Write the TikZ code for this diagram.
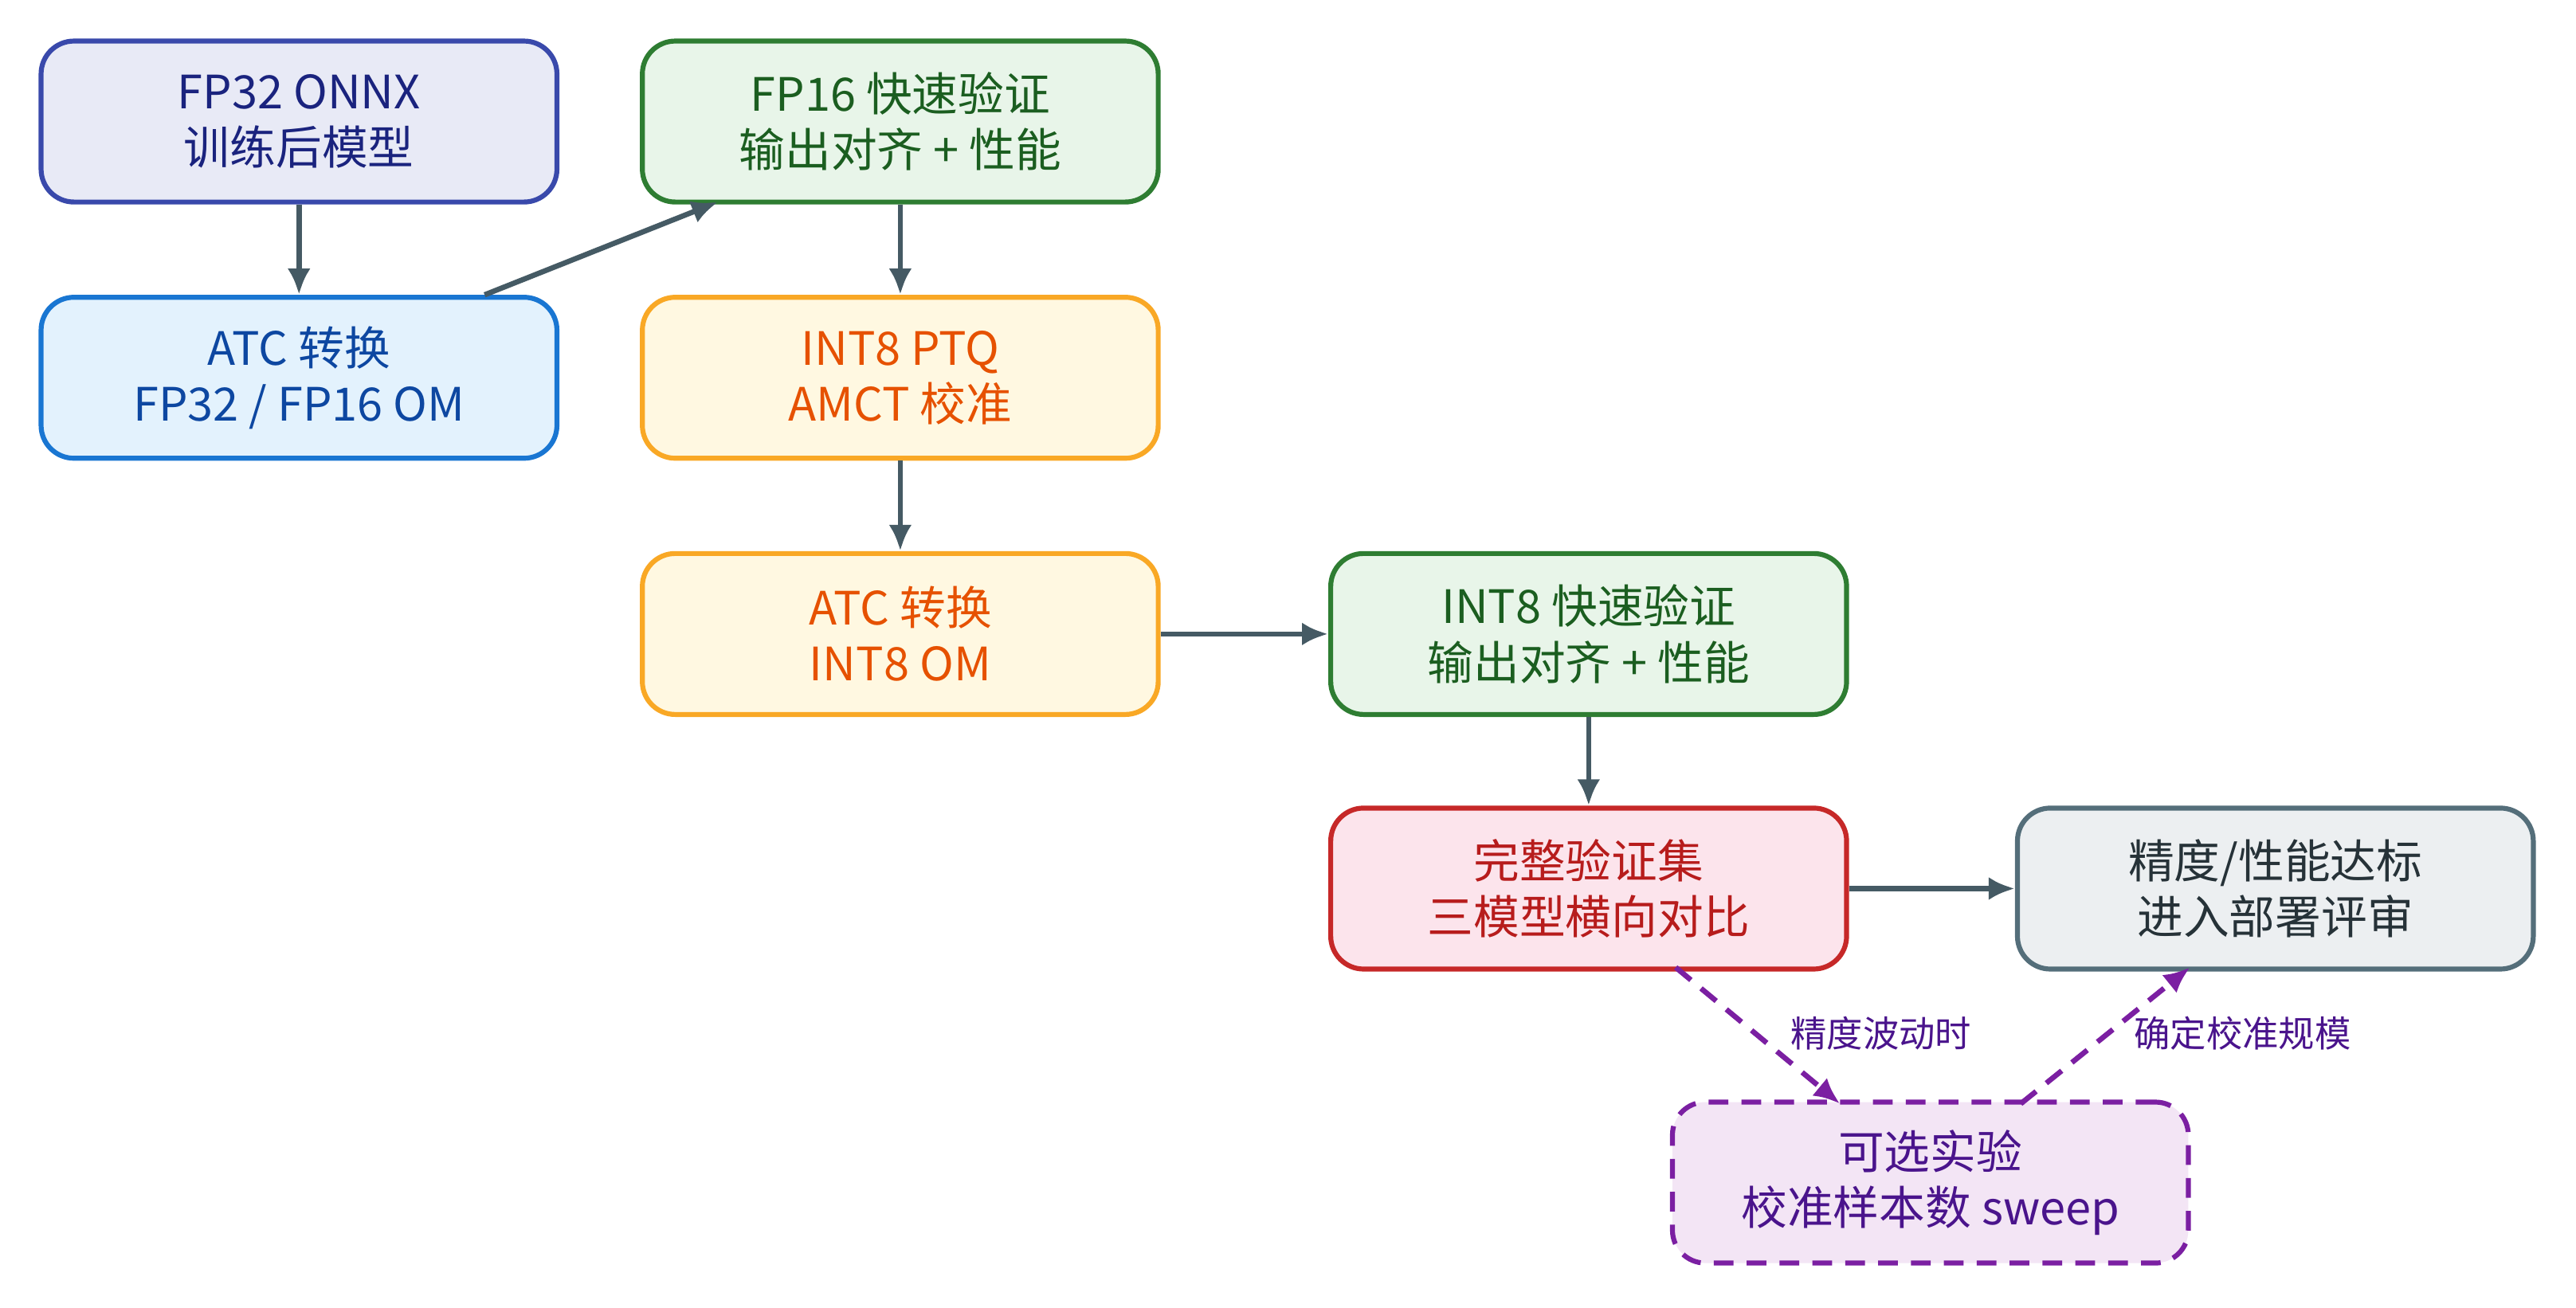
\documentclass[tikz,border=0pt]{standalone}
\usepackage{fontspec}
\setmainfont{Noto Sans CJK SC}
\usetikzlibrary{arrows.meta}
\definecolor{arr}{HTML}{455A64}
\begin{document}
\begin{tikzpicture}[x=0.5pt,y=-0.5pt,
 box/.style={draw,line width=1.5pt,rounded corners=10pt,minimum width=157pt,minimum height=49pt,align=center,font=\fontsize{14}{17}\selectfont,inner sep=0pt},
 flow/.style={draw=arr,line width=1.6pt,-{Latex[length=8pt,width=7pt]}},
 opt/.style={draw={rgb,255:red,123;green,31;blue,162},line width=1.6pt,dashed,dash pattern=on 6pt off 4pt,-{Latex[length=8pt,width=7pt]}},
 lab/.style={font=\fontsize{11}{13}\selectfont,text={rgb,255:red,74;green,20;blue,140}}]
\useasboundingbox[fill=white] (0,0) rectangle (1568,796);
\node[box,fill={rgb,255:red,232;green,234;blue,246},draw={rgb,255:red,57;green,73;blue,171},text={rgb,255:red,26;green,35;blue,126}] (a) at (182,74) {FP32 ONNX\\训练后模型};
\node[box,fill={rgb,255:red,227;green,242;blue,253},draw={rgb,255:red,25;green,118;blue,210},text={rgb,255:red,13;green,71;blue,161}] (b) at (182,230) {ATC 转换\\FP32 / FP16 OM};
\node[box,fill={rgb,255:red,232;green,245;blue,233},draw={rgb,255:red,46;green,125;blue,50},text={rgb,255:red,27;green,94;blue,32}] (c) at (548,74) {FP16 快速验证\\输出对齐 + 性能};
\node[box,fill={rgb,255:red,255;green,248;blue,225},draw={rgb,255:red,249;green,168;blue,37},text={rgb,255:red,230;green,81;blue,0}] (d) at (548,230) {INT8 PTQ\\AMCT 校准};
\node[box,fill={rgb,255:red,255;green,248;blue,225},draw={rgb,255:red,249;green,168;blue,37},text={rgb,255:red,230;green,81;blue,0}] (e) at (548,386) {ATC 转换\\INT8 OM};
\node[box,fill={rgb,255:red,232;green,245;blue,233},draw={rgb,255:red,46;green,125;blue,50},text={rgb,255:red,27;green,94;blue,32}] (f) at (967,386) {INT8 快速验证\\输出对齐 + 性能};
\node[box,fill={rgb,255:red,252;green,228;blue,236},draw={rgb,255:red,198;green,40;blue,40},text={rgb,255:red,183;green,28;blue,28}] (g) at (967,541) {完整验证集\\三模型横向对比};
\node[box,fill={rgb,255:red,236;green,239;blue,241},draw={rgb,255:red,84;green,110;blue,122},text={rgb,255:red,38;green,50;blue,56}] (h) at (1385,541) {精度/性能达标\\进入部署评审};
\node[box,dashed,dash pattern=on 6pt off 4pt,fill={rgb,255:red,243;green,229;blue,245},draw={rgb,255:red,123;green,31;blue,162},text={rgb,255:red,74;green,20;blue,140}] (i) at (1175,720) {可选实验\\校准样本数 sweep};
\draw[flow] (a) -- (b);
\draw[flow] (b.north -| 295,0) -- (437,123);
\draw[flow] (c) -- (d);
\draw[flow] (d) -- (e);
\draw[flow] (e) -- (f);
\draw[flow] (f) -- (g);
\draw[flow] (g) -- (h);
\draw[opt] (1020,589) -- (1120,672);
\draw[opt] (1230,672) -- (1333,589);
\node[lab] (l1) at (1145,629) {精度波动时};
\node[lab] (l2) at (1365,629) {确定校准规模};
\end{tikzpicture}
\end{document}
